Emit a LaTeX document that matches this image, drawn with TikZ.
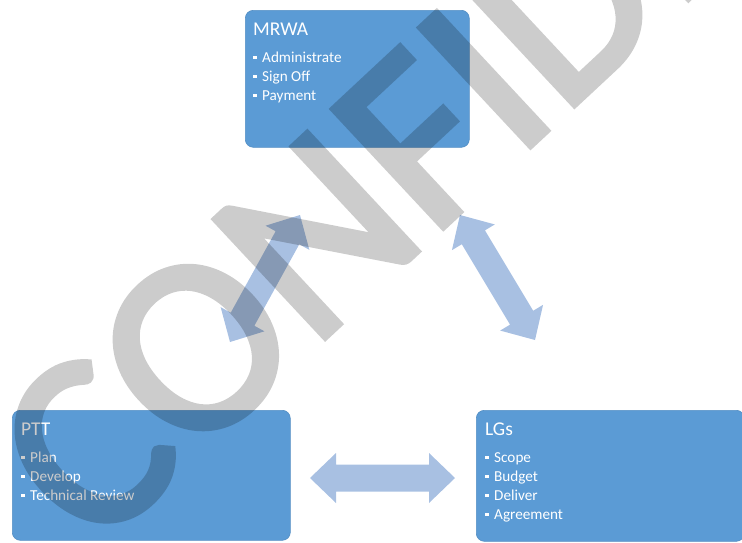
\documentclass[tikz,border=0pt]{standalone}
\usepackage{fontspec}
\setmainfont{Carlito}
\newfontfamily\wmfont[FakeBold=2.5]{Carlito}
\usetikzlibrary{calc}
\definecolor{boxblue}{RGB}{91,155,213}
\definecolor{arrowblue}{RGB}{168,192,226}
\tikzset{
  card/.style={fill=boxblue, draw=boxblue!92!black, line width=0.6pt, rounded corners=8pt, inner sep=0pt},
  cardtitle/.style={text=white, font=\fontsize{19.5}{21}\selectfont, anchor=base west, inner sep=0pt},
  item/.style={text=white, font=\fontsize{15.2}{17}\selectfont, anchor=base west, inner sep=0pt},
  arrowfill/.style={fill=arrowblue},
  watermark/.style={text=black, font=\wmfont\fontsize{252}{252}\selectfont, inner sep=0pt}
}
\newcommand\bul{\rule[0.22em]{3.5pt}{2.6pt}\hspace{5.5pt}}
\newcommand\blockarrow[2]{%
  \fill[arrowfill] let \p1=(#1), \p2=(#2),
    \n1={atan2(\y2-\y1,\x2-\x1)}, \n2={veclen(\x2-\x1,\y2-\y1)} in
    [shift={(\p1)}, rotate=\n1]
    (0pt,0pt) -- (26pt,25pt) -- (26pt,13.5pt) -- ({\n2*1pt-26pt},13.5pt)
    -- ({\n2*1pt-26pt},25pt) -- ({\n2*1pt},0pt) -- ({\n2*1pt-26pt},-25pt)
    -- ({\n2*1pt-26pt},-13.5pt) -- (26pt,-13.5pt) -- (26pt,-25pt) -- cycle;}
\begin{document}
\begin{tikzpicture}[x=1pt, y=-1pt]
\useasboundingbox (0,0) rectangle (742,542);
\clip (0,0) rectangle (742,542);
% boxes
\node[card, minimum width=224pt, minimum height=137pt, anchor=north west] (mrwa) at (245,10) {};
\node[card, minimum width=278pt, minimum height=130pt, anchor=north west] (ptt) at (12,410) {};
\node[card, minimum width=268pt, minimum height=131pt, anchor=north west] (lgs) at (476,410) {};
% MRWA text
\node[cardtitle] (mrwat) at (253,35) {MRWA};
\node[item] (m1) at (253,62) {\bul Administrate};
\node[item] (m2) at (253,81) {\bul Sign Off};
\node[item] (m3) at (253,100) {\bul Payment};
% PTT text
\node[cardtitle] (pttt) at (21,435) {PTT};
\node[item] (p1) at (21,462) {\bul Plan};
\node[item] (p2) at (21,481) {\bul Develop};
\node[item] (p3) at (21,500) {\bul Technical Review};
% LGs text
\node[cardtitle] (lgst) at (485,435) {LGs};
\node[item] (l1) at (485,462) {\bul Scope};
\node[item] (l2) at (485,481) {\bul Budget};
\node[item] (l3) at (485,500) {\bul Deliver};
\node[item] (l4) at (485,519) {\bul Agreement};
% arrows
\coordinate (la1) at (230,342);
\coordinate (la2) at (300,215);
\coordinate (ra1) at (460,215);
\coordinate (ra2) at (535,340);
\coordinate (ha1) at (310,478);
\coordinate (ha2) at (455,478);
\blockarrow{la1}{la2}
\blockarrow{ra1}{ra2}
\blockarrow{ha1}{ha2}
% watermark
\begin{scope}[transparency group, opacity=0.2]
\node[watermark, rotate=43, anchor=base west] (wm) at (93,554) {CONFIDENTIAL};
\end{scope}
\end{tikzpicture}
\end{document}
